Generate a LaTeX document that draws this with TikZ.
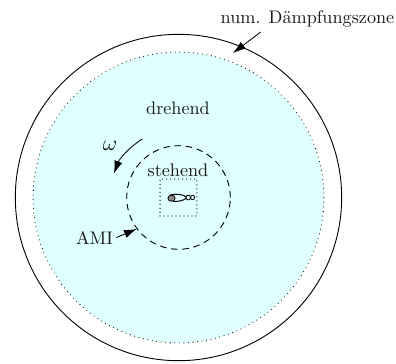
\documentclass[tikz,border=0pt]{standalone}
\usetikzlibrary{arrows.meta}
\definecolor{rotfill}{RGB}{224,255,255}
\tikzset{
  outerc/.style={circle,draw=black,line width=0.5pt,minimum size=179.5pt,inner sep=0pt},
  rotc/.style={circle,fill=rotfill,draw=black,line width=0.6pt,line cap=round,dash pattern=on 0pt off 2.5pt,minimum size=160pt,inner sep=0pt},
  amic/.style={circle,draw=black,line width=0.5pt,dash pattern=on 3.6pt off 2.6pt,minimum size=57pt,inner sep=0pt},
  boxn/.style={rectangle,draw=black,line width=0.7pt,line cap=round,dash pattern=on 0pt off 2.2pt,minimum size=20.3pt,inner sep=0pt},
  lbl/.style={inner sep=0pt,text=black!90},
  pointer/.style={-{Latex[length=7pt,width=4.6pt]},line width=0.45pt},
}
\begin{document}
\begin{tikzpicture}[x=0.55pt,y=-0.55pt]
\useasboundingbox (0,0) rectangle (396,363);
\node[outerc] (outer) at (178.5,197.5) {};
\node[rotc] (rot) at (178.5,197.5) {};
\node[amic] (ami) at (178.5,197.5) {};
\node[boxn] (box) at (178.5,197.5) {};
\node[lbl] (zone) at (307.5,19) {num. Dämpfungszone};
\node[lbl] (dreh) at (178,108) {drehend};
\node[lbl] (steh) at (178,170) {stehend};
\node[lbl,scale=1.2] (omega) at (110,146) {$\omega$};
\node[lbl] (amil) at (94.5,238) {AMI};
\coordinate (zs) at (260.7,32);
\coordinate (ze) at (233,53);
\draw[pointer] (zs) -- (ze);
\draw[pointer] (amil.east) ++(3,-0.5) -- (ami.217);
\coordinate (ws) at (142.3,139);
\draw[pointer] (ws) arc[start angle=-121.6,end angle=-159.7,radius=68.5];
% foil
\draw[line width=0.45pt,fill=black!45] (171.5,198.2) ellipse (3.6 and 3);
\draw[line width=0.55pt] (170.5,194.8) .. controls (176,193.8) and (183,194.2) .. (186,196.8);
\draw[line width=0.55pt] (173,201.2) .. controls (178,202) and (183,200.5) .. (186,198.5);
\draw[line width=0.45pt] (188.3,197.5) ellipse (2.2 and 2.4);
\draw[line width=0.45pt] (192.6,197.5) ellipse (2 and 2.2);
\end{tikzpicture}
\end{document}
